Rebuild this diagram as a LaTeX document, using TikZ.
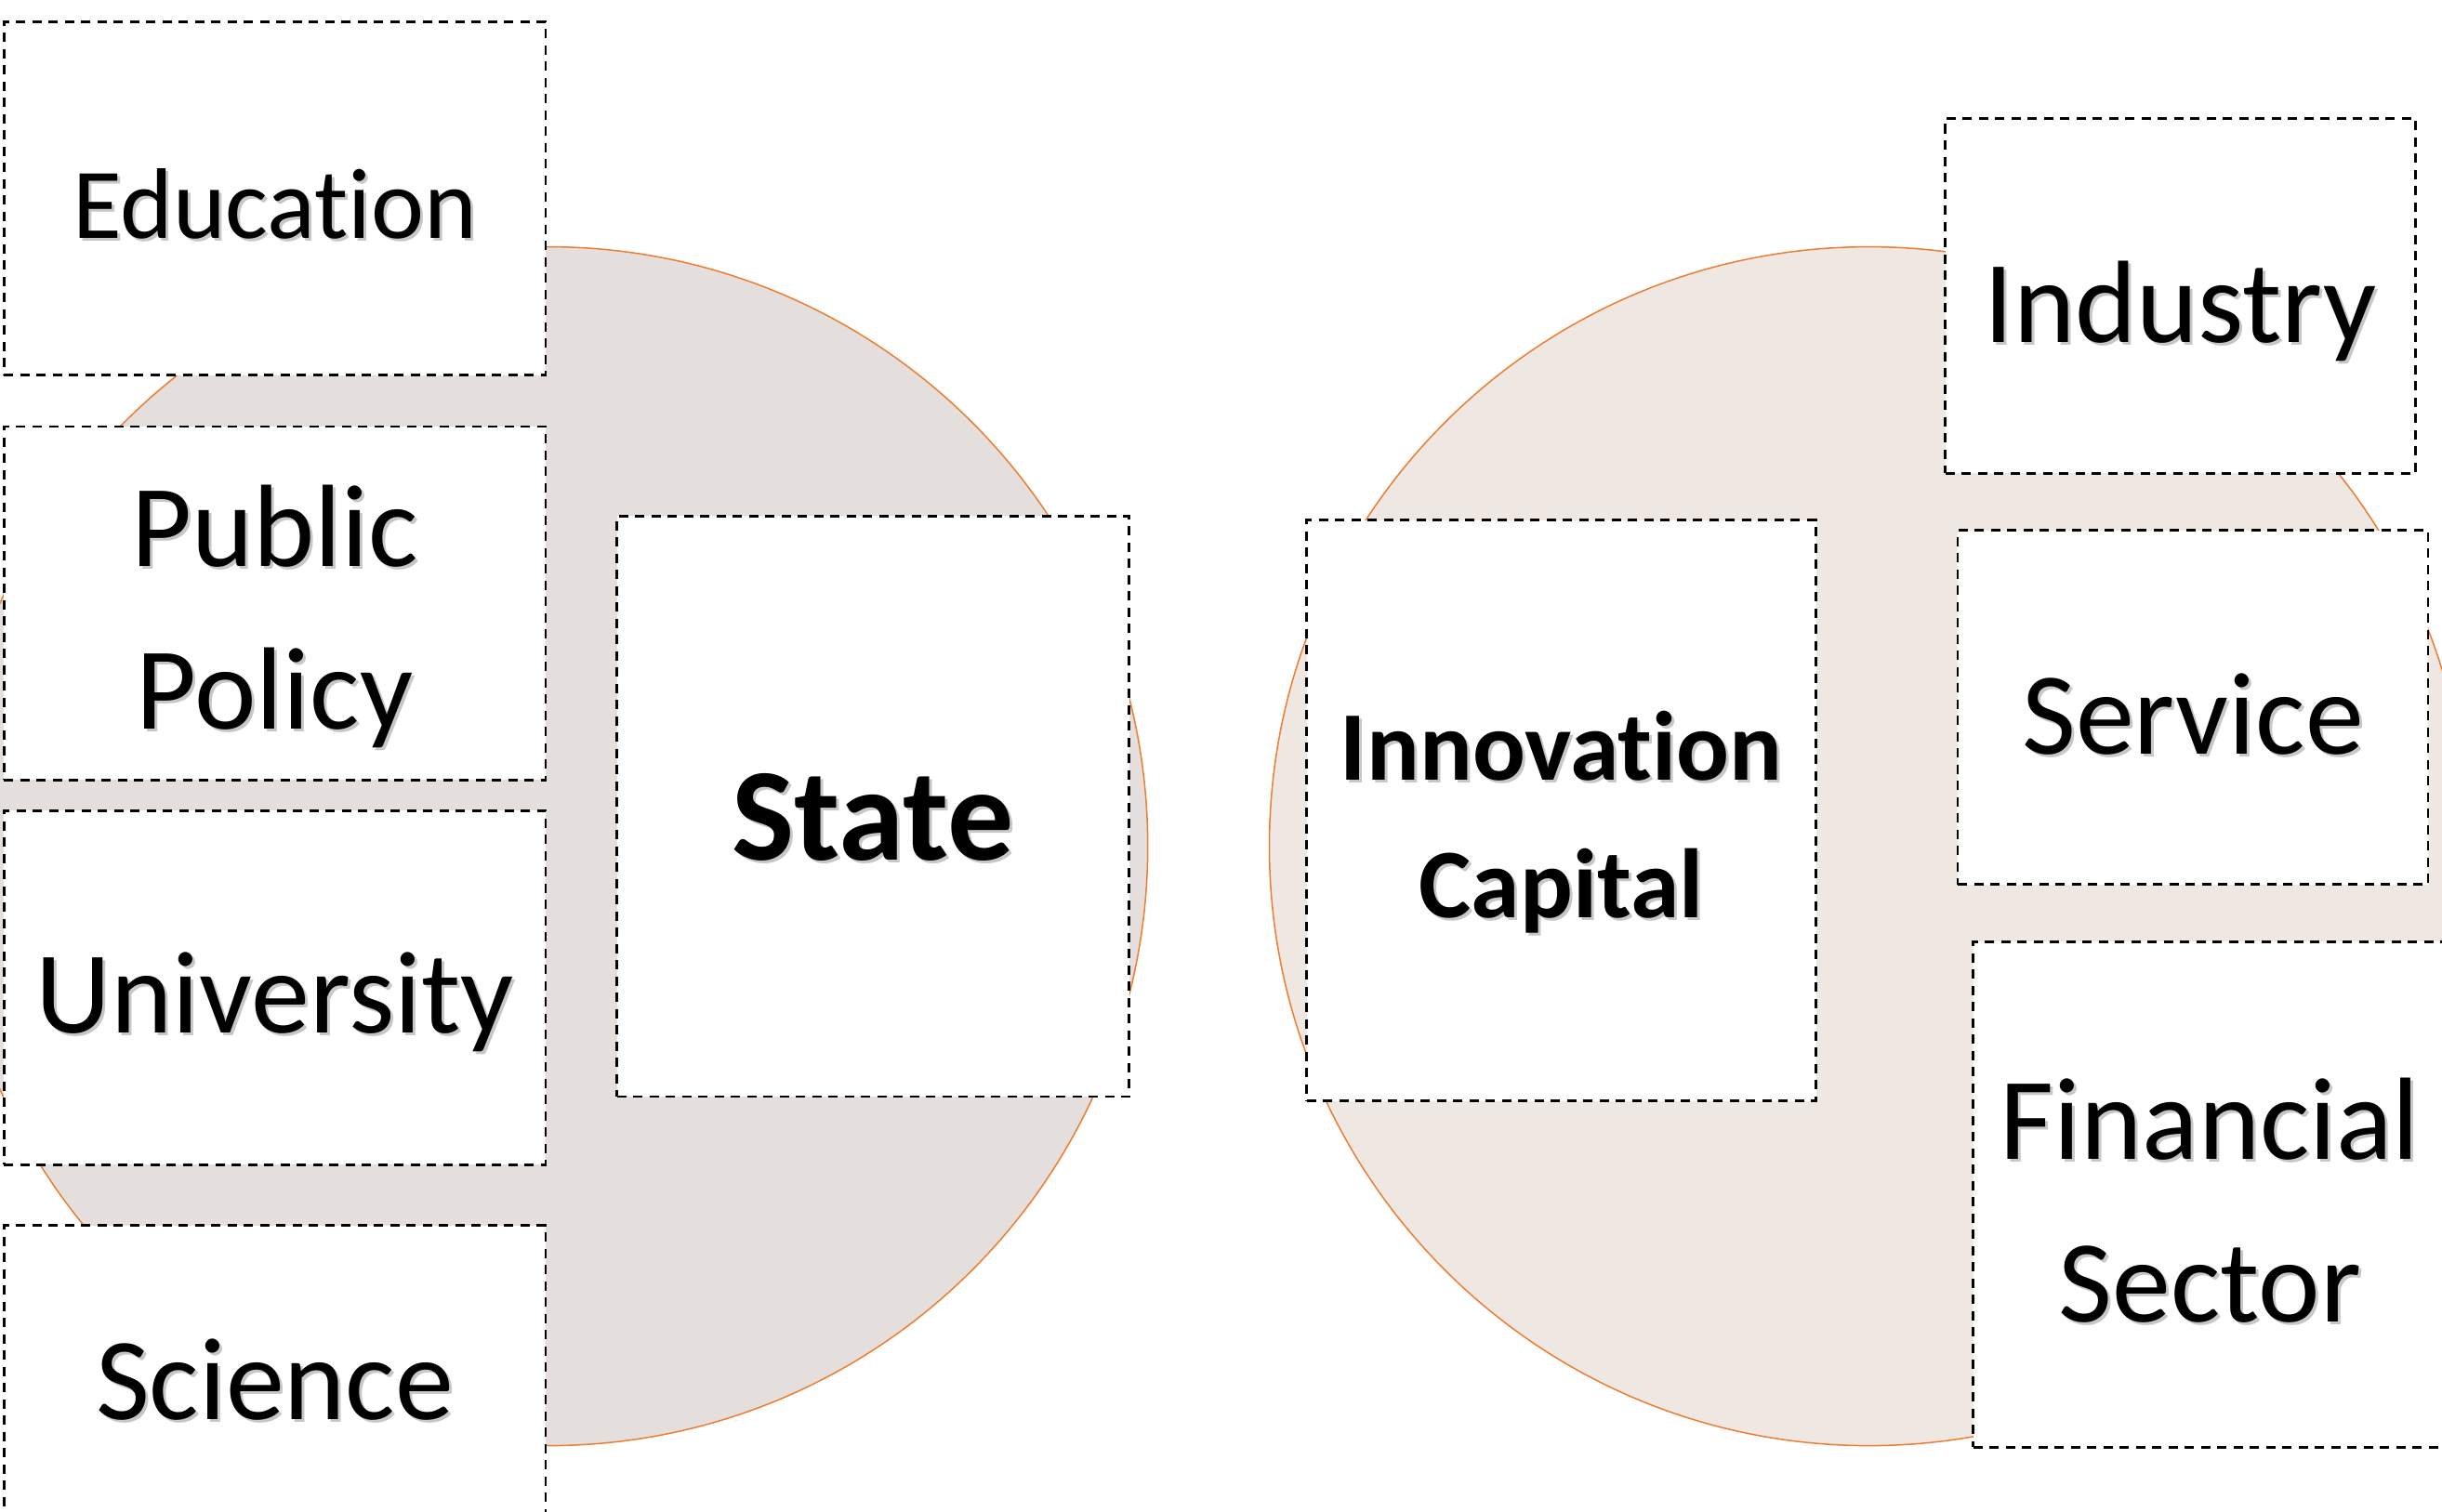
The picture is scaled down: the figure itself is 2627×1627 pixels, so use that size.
\documentclass[tikz,border=0pt]{standalone}
\usepackage{fontspec}
\setmainfont{Carlito}[Ligatures=NoCommon]
\definecolor{leftfill}{HTML}{E4DFDC}
\definecolor{rightfill}{HTML}{EFE8E2}
\definecolor{ringc}{HTML}{ED7D31}
\newcommand{\shd}[1]{\leavevmode\rlap{\kern3pt\raisebox{-3pt}{\textcolor{black!22}{#1}}}#1}
\begin{document}
\begin{tikzpicture}[x=1pt,y=-1pt,
  dbox/.style={draw=black, dash pattern=on 10pt off 7.5pt, line width=2.8pt, fill=white, inner sep=0pt, rectangle},
  blob/.style={circle, draw=ringc, line width=1.5pt, minimum size=1290pt, inner sep=0pt},
  lbl/.style={inner sep=0pt, align=center, anchor=base},
  reg/.style={font=\fontsize{126}{175}\selectfont},
  bld/.style={font=\fontsize{142}{175}\selectfont\bfseries},
]
\useasboundingbox (0,0) rectangle (2627,1627);
\clip (0,0) rectangle (2627,1627);
% circles
\node[blob, fill=leftfill] (lc) at (589.7,910.6) {};
\node[blob, fill=rightfill] (rc) at (2010.5,910.6) {};
% left boxes
\node[dbox, minimum width=582.7pt, minimum height=380.3pt] (edu) at (295.55,213.65) {};
\node[dbox, minimum width=582.7pt, minimum height=380.4pt] (pub) at (295.55,649.2) {};
\node[dbox, minimum width=582.7pt, minimum height=380.8pt] (uni) at (295.55,1062.8) {};
\node[dbox, minimum width=582.7pt, minimum height=380pt] (sci) at (295.55,1508.5) {};
\node[dbox, minimum width=551.2pt, minimum height=624.6pt] (sta) at (939.1,867.7) {};
% right boxes
\node[dbox, minimum width=547.8pt, minimum height=624.9pt] (inn) at (1679.6,872.05) {};
\node[dbox, minimum width=505.9pt, minimum height=382pt] (ind) at (2345.55,318.3) {};
\node[dbox, minimum width=506pt, minimum height=381pt] (ser) at (2359,761.1) {};
\node[dbox, minimum width=509.3pt, minimum height=543.8pt] (fin) at (2377.35,1285.2) {};
% labels (multi-line labels: base anchor is the last line's baseline)
\node[lbl, font=\fontsize{108}{150}\selectfont] (edut) at (edu.center |- 0,256.2) {\shd{Education}};
\node[lbl, reg] (pubt) at (pub.center |- 0,784.1) {\shd{Public}\\\shd{Policy}};
\node[lbl, reg] (unit) at (uni.center |- 0,1111.5) {\shd{University}};
\node[lbl, reg] (scit) at (sci.center |- 0,1527.1) {\shd{Science}};
\node[lbl, bld] (stat) at (sta.center |- 0,925.2) {\shd{State}};
\node[lbl, font=\fontsize{106}{148}\selectfont\bfseries] (innt) at (inn.center |- 0,987.5) {\shd{Innovation}\\\shd{Capital}};
\node[lbl, reg] (indt) at (ind.center |- 0,368.6) {\shd{Industry}};
\node[lbl, reg] (sert) at (ser.center |- 0,811) {\shd{Service}};
\node[lbl, reg] (fint) at (fin.center |- 0,1422.4) {\shd{Financial}\\\shd{Sector}};
\end{tikzpicture}
\end{document}
